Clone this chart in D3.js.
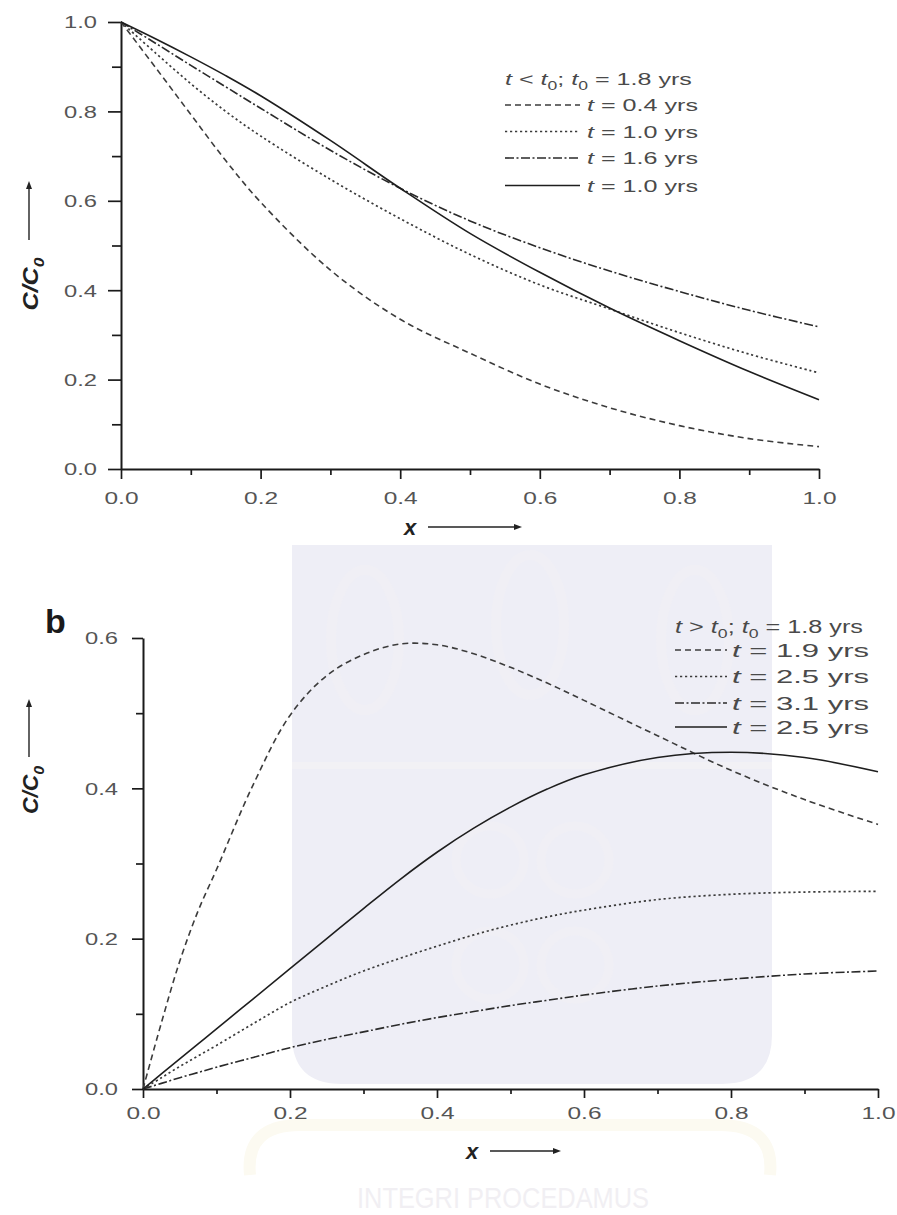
<!DOCTYPE html>
<html>
<head>
<meta charset="utf-8">
<script src="https://cdn.jsdelivr.net/npm/d3@7"></script>
<style>
  html, body { margin: 0; padding: 0; background: #fff; }
  svg { display: block; }
</style>
</head>
<body>
<svg id="chart" width="897" height="1215"></svg>
<script>
// ---------- data: panel a (t < t0) ----------
const xA = [0, 0.05, 0.1, 0.15, 0.2, 0.3, 0.4, 0.5, 0.6, 0.7, 0.8, 0.9, 1.0];
const a_t04   = [1, 0.897, 0.793, 0.690, 0.597, 0.445, 0.335, 0.259, 0.190, 0.137, 0.097, 0.068, 0.050];
const a_t10d  = [1, 0.930, 0.862, 0.800, 0.745, 0.648, 0.560, 0.480, 0.412, 0.358, 0.305, 0.257, 0.215];
const a_t16   = [1, 0.952, 0.903, 0.855, 0.807, 0.713, 0.628, 0.555, 0.495, 0.443, 0.397, 0.355, 0.318];
const a_t10   = [1, 0.962, 0.922, 0.880, 0.835, 0.735, 0.628, 0.527, 0.440, 0.360, 0.287, 0.218, 0.155];
const aLabels = ["0.4", "1.0", "1.6", "1.0"];

// ---------- data: panel b (t > t0) ----------
const xB = [0, 0.025, 0.05, 0.075, 0.1, 0.15, 0.2, 0.25, 0.3, 0.35, 0.4, 0.45, 0.5, 0.55, 0.6, 0.7, 0.8, 0.9, 1.0];
const b_t19  = [0, 0.088, 0.170, 0.237, 0.292, 0.405, 0.497, 0.550, 0.578, 0.592, 0.591, 0.579, 0.561, 0.540, 0.517, 0.470, 0.424, 0.385, 0.352];
const b_t25d = [0, 0.015, 0.030, 0.044, 0.058, 0.087, 0.115, 0.137, 0.157, 0.174, 0.190, 0.205, 0.218, 0.229, 0.238, 0.252, 0.259, 0.262, 0.263];
const b_t31  = [0, 0.0075, 0.015, 0.022, 0.029, 0.042, 0.055, 0.066, 0.076, 0.086, 0.095, 0.103, 0.111, 0.118, 0.125, 0.137, 0.146, 0.153, 0.157];
const b_t25  = [0, 0.020, 0.040, 0.060, 0.080, 0.120, 0.160, 0.200, 0.240, 0.279, 0.315, 0.347, 0.375, 0.399, 0.418, 0.441, 0.448, 0.441, 0.422];
const bLabels = ["1.9", "2.5", "3.1", "2.5"];

// ---------- tick values ----------
const xMajor = [0, 0.2, 0.4, 0.6, 0.8, 1.0];
const xMinor = [0.1, 0.3, 0.5, 0.7, 0.9];
const yMajorA = [0, 0.2, 0.4, 0.6, 0.8, 1.0];
const yMinorA = [0.1, 0.3, 0.5, 0.7, 0.9];
const yMajorB = [0, 0.2, 0.4, 0.6];
const yMinorB = [0.1, 0.3, 0.5];

// ---------- line styles (dashed, dotted, dash-dot, solid) ----------
const styles = [
  { dash: "6,4",         color: "#3c3c3c", width: 1.6 },
  { dash: "2.2,2.8",     color: "#3a3a3a", width: 1.7 },
  { dash: "9,2.5,2,2.5", color: "#2a2a2a", width: 1.6 },
  { dash: null,          color: "#1e1e1e", width: 1.6 }
];

const svg = d3.select("#chart");
const FONT = "'Liberation Sans', Arial, Helvetica, sans-serif";

svg.append("rect").attr("width", 897).attr("height", 1215).attr("fill", "#fff");

// ---------- faint background emblem ----------
const wm = svg.append("g");
wm.append("path")
  .attr("d", "M292,545 H772 V1035 Q772,1084 722,1084 H342 Q292,1084 292,1035 Z")
  .attr("fill", "#eeeef6");
wm.append("rect").attr("x", 292).attr("y", 762).attr("width", 480).attr("height", 7).attr("fill", "#f2f1f5");
[[365, 640], [530, 625], [695, 640]].forEach(([cx, cy]) => {
  wm.append("ellipse").attr("cx", cx).attr("cy", cy).attr("rx", 34).attr("ry", 70)
    .attr("fill", "none").attr("stroke", "#f0eff5").attr("stroke-width", 10);
});
[[490, 860], [575, 860], [490, 965], [575, 965]].forEach(([cx, cy]) => {
  wm.append("circle").attr("cx", cx).attr("cy", cy).attr("r", 34)
    .attr("fill", "none").attr("stroke", "#f0eff5").attr("stroke-width", 9);
});
wm.append("path")
  .attr("d", "M250,1175 Q245,1125 300,1125 L720,1125 Q775,1125 770,1175")
  .attr("fill", "none").attr("stroke", "#fcfaf1").attr("stroke-width", 12);
wm.append("text")
  .attr("x", 357).attr("y", 1208)
  .attr("font-family", FONT).attr("font-size", 30)
  .attr("textLength", 292).attr("lengthAdjust", "spacingAndGlyphs")
  .attr("fill", "#f1eff3")
  .text("INTEGRI PROCEDAMUS");

// ---------- helpers ----------
// Rich text built from parts: {t, i (italic), sub (subscript)}
function richText(parent, parts, opts) {
  const size = opts.size;
  const t = parent.append("text")
    .attr("font-family", FONT)
    .attr("font-size", size)
    .attr("font-weight", opts.weight || "normal")
    .attr("font-style", opts.style || "normal")
    .attr("fill", opts.fill || "#4d4d4d")
    .attr("text-anchor", opts.anchor || "start")
    .attr("dy", opts.dy || null);
  let shifted = false;
  parts.forEach(p => {
    const ts = t.append("tspan").text(p.t);
    if (p.i) ts.attr("font-style", "italic");
    if (p.sub) {
      ts.attr("font-size", size * 0.7).attr("dy", size * 0.28);
      shifted = true;
    } else if (shifted) {
      ts.attr("dy", -size * 0.28);
      shifted = false;
    }
  });
  // horizontal stretch so the text spans the requested width
  const len = t.node().getComputedTextLength();
  const s = opts.width ? opts.width / len : 1;
  const rot = opts.rotate ? ` rotate(${opts.rotate})` : "";
  t.attr("transform", `translate(${opts.x},${opts.y})${rot} scale(${s},1)`);
  return t;
}

function styleTickLabels(axisG, offX, offY, anchor, width) {
  axisG.selectAll(".tick text").each(function () {
    const t = d3.select(this)
      .attr("x", 0).attr("y", 0).attr("dy", "0.35em")
      .attr("text-anchor", anchor)
      .attr("font-family", FONT).attr("font-size", 17).attr("fill", "#555");
    const len = this.getComputedTextLength();
    t.attr("transform", `translate(${offX},${offY}) scale(${width / len},1)`);
  });
}

function styleAxis(g) {
  g.select(".domain").attr("stroke", "#1a1a1a").attr("stroke-width", 2);
  g.selectAll(".tick line").attr("stroke", "#1a1a1a").attr("stroke-width", 1.7);
}

function arrow(parent, x1, y1, x2, y2) {
  const ang = Math.atan2(y2 - y1, x2 - x1);
  const L = 8, W = 3;
  const bx = x2 - L * Math.cos(ang), by = y2 - L * Math.sin(ang);
  parent.append("line").attr("x1", x1).attr("y1", y1).attr("x2", bx).attr("y2", by)
    .attr("stroke", "#222").attr("stroke-width", 1.4);
  const px = -Math.sin(ang) * W, py = Math.cos(ang) * W;
  parent.append("path")
    .attr("d", `M${x2},${y2} L${bx + px},${by + py} L${bx - px},${by - py} Z`)
    .attr("fill", "#222");
}

function drawPanel(cfg) {
  const g = svg.append("g");
  const x = cfg.x, y = cfg.y;
  const x0 = x.range()[0], y0 = y.range()[0];

  // minor ticks
  const yMin = g.append("g").attr("transform", `translate(${x0},0)`)
    .call(d3.axisLeft(y).tickValues(cfg.yMinor).tickSize(cfg.yMinorLen).tickFormat(""));
  yMin.select(".domain").remove();
  styleAxis(yMin);
  const xMin = g.append("g").attr("transform", `translate(0,${y0})`)
    .call(d3.axisBottom(x).tickValues(xMinor).tickSize(cfg.xMinorLen).tickFormat(""));
  xMin.select(".domain").remove();
  styleAxis(xMin);

  // major ticks with labels
  const yAx = g.append("g").attr("transform", `translate(${x0},0)`)
    .call(d3.axisLeft(y).tickValues(cfg.yMajor).tickSize(cfg.yMajorLen).tickSizeOuter(0)
      .tickFormat(d3.format(".1f")));
  styleAxis(yAx);
  styleTickLabels(yAx, cfg.yLabelOff, 0, "end", 33);

  const xAx = g.append("g").attr("transform", `translate(0,${y0})`)
    .call(d3.axisBottom(x).tickValues(xMajor).tickSize(cfg.xMajorLen).tickSizeOuter(0)
      .tickFormat(d3.format(".1f")));
  styleAxis(xAx);
  styleTickLabels(xAx, 0, cfg.xLabelOff, "middle", 34);

  // curves
  const line = d3.line().x(d => x(d[0])).y(d => y(d[1])).curve(d3.curveCatmullRom.alpha(0.5));
  cfg.series.forEach((vals, i) => {
    const st = styles[i];
    g.append("path")
      .datum(cfg.xs.map((xv, k) => [xv, vals[k]]))
      .attr("d", line)
      .attr("fill", "none")
      .attr("stroke", st.color)
      .attr("stroke-width", st.width)
      .attr("stroke-dasharray", st.dash)
      .attr("stroke-linejoin", "round");
  });

  // legend
  const lg = cfg.legend;
  richText(g, lg.title, { x: lg.x0, y: lg.titleY, size: lg.size, width: lg.titleW, fill: "#4a4a4a" });
  cfg.labels.forEach((lab, i) => {
    const cy = lg.rows[i];
    const st = styles[i];
    g.append("line")
      .attr("x1", lg.x0).attr("x2", lg.x1).attr("y1", cy).attr("y2", cy)
      .attr("stroke", st.color).attr("stroke-width", st.width)
      .attr("stroke-dasharray", st.dash);
    richText(g, [{ t: "t", i: 1 }, { t: " = " + lab + " yrs" }],
      { x: lg.textX, y: cy + lg.size * 0.36, size: lg.size, width: lg.rowW, fill: "#4a4a4a" });
  });

  // axis titles
  const yt = cfg.yTitle;
  richText(g, [{ t: "C/C" }, { t: "0", sub: 1 }],
    { x: 30, y: yt.cy, size: 22, weight: "bold", style: "italic", anchor: "middle",
      rotate: -90, width: yt.w, fill: "#222", dy: "0.35em" });
  arrow(g, 29, yt.a1, 29, yt.a2);

  const xt = cfg.xTitle;
  richText(g, [{ t: "x" }], { x: xt.x, y: xt.y, size: 22, weight: "bold", style: "italic",
    anchor: "middle", fill: "#222", dy: "0.35em" });
  arrow(g, xt.a1, xt.y, xt.a2, xt.y);
  return g;
}

// ---------- panel a ----------
drawPanel({
  x: d3.scaleLinear().domain([0, 1]).range([121, 819]),
  y: d3.scaleLinear().domain([0, 1]).range([469, 22]),
  xs: xA,
  series: [a_t04, a_t10d, a_t16, a_t10],
  labels: aLabels,
  yMajor: yMajorA, yMinor: yMinorA,
  yMajorLen: 13, yMinorLen: 9, xMajorLen: 10, xMinorLen: 6,
  yLabelOff: -24, xLabelOff: 29,
  legend: {
    x0: 505, x1: 580, textX: 587, size: 17,
    titleY: 85, titleW: 187, rowW: 111,
    rows: [105, 131.5, 158, 185.5],
    title: [{ t: "t", i: 1 }, { t: " < " }, { t: "t", i: 1 }, { t: "0", sub: 1 }, { t: "; " },
            { t: "t", i: 1 }, { t: "0", sub: 1 }, { t: " = 1.8 yrs" }]
  },
  yTitle: { cy: 284, w: 53, a1: 240, a2: 181 },
  xTitle: { x: 410, y: 527, a1: 428, a2: 522 }
});

// ---------- panel b ----------
drawPanel({
  x: d3.scaleLinear().domain([0, 1]).range([143, 878]),
  y: d3.scaleLinear().domain([0, 0.6]).range([1089, 638]),
  xs: xB,
  series: [b_t19, b_t25d, b_t31, b_t25],
  labels: bLabels,
  yMajor: yMajorB, yMinor: yMinorB,
  yMajorLen: 11, yMinorLen: 7, xMajorLen: 9, xMinorLen: 5,
  yLabelOff: -25, xLabelOff: 24,
  legend: {
    x0: 675, x1: 727, textX: 732, size: 19,
    titleY: 633, titleW: 188, rowW: 137,
    rows: [650, 676.5, 703, 727],
    title: [{ t: "t", i: 1 }, { t: " > " }, { t: "t", i: 1 }, { t: "0", sub: 1 }, { t: "; " },
            { t: "t", i: 1 }, { t: "0", sub: 1 }, { t: " = 1.8 yrs" }]
  },
  yTitle: { cy: 790, w: 48, a1: 757, a2: 699 },
  xTitle: { x: 472, y: 1151, a1: 490, a2: 561 }
});

// panel letter
svg.append("text")
  .attr("x", 45).attr("y", 633)
  .attr("font-family", FONT).attr("font-weight", "bold").attr("font-size", 34)
  .attr("fill", "#1a1a1a")
  .text("b");
</script>
</body>
</html>
